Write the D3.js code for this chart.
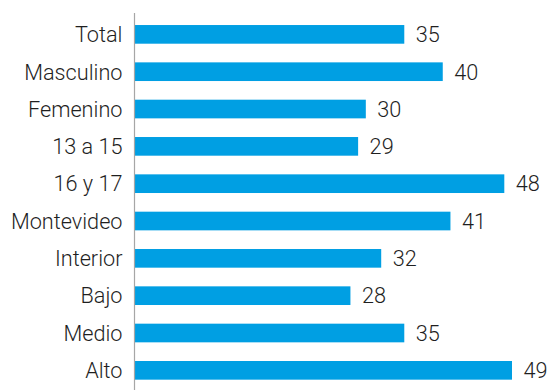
<!DOCTYPE html>
<html>
<head>
<meta charset="utf-8">
<script src="https://cdn.jsdelivr.net/npm/d3@7"></script>
<style>
  html, body { margin: 0; padding: 0; background: #fff; }
  svg { display: block; }
  text { font-family: "Roboto", "Liberation Sans", sans-serif; font-weight: 300; fill: #1f1f1f; }
</style>
</head>
<body>
<svg id="chart" width="549" height="390"></svg>
<script>
// Categories and their values (%)
const categories = ["Total", "Masculino", "Femenino", "13 a 15", "16 y 17",
                    "Montevideo", "Interior", "Bajo", "Medio", "Alto"];
const values = [35, 40, 30, 29, 48, 41, 32, 28, 35, 49];

const width = 549, height = 390;
const svg = d3.select("#chart");

const x = d3.scaleLinear().domain([0, 49]).range([135, 512]);
const y = d3.scaleBand()
  .domain(categories)
  .range([15.7, 389])
  .paddingInner(0.5)
  .paddingOuter(0.25);

const data = categories.map((c, i) => ({ cat: c, val: values[i] }));

// Bars
svg.append("g")
  .selectAll("rect")
  .data(data)
  .join("rect")
  .attr("x", x(0))
  .attr("y", d => y(d.cat))
  .attr("width", d => x(d.val) - x(0))
  .attr("height", y.bandwidth())
  .attr("fill", "#009FE3");

// Vertical axis line
svg.append("line")
  .attr("x1", 134.5).attr("x2", 134.5)
  .attr("y1", 13).attr("y2", height)
  .attr("stroke", "#a6a6a6")
  .attr("stroke-width", 1.2);

// Category labels
svg.append("g")
  .selectAll("text")
  .data(data)
  .join("text")
  .attr("x", 122.5)
  .attr("y", d => y(d.cat) + y.bandwidth() / 2)
  .attr("dy", "0.36em")
  .attr("text-anchor", "end")
  .attr("font-size", 21.7)
  .text(d => d.cat);

// Value labels
svg.append("g")
  .selectAll("text")
  .data(data)
  .join("text")
  .attr("x", d => x(d.val) + 11.5)
  .attr("y", d => y(d.cat) + y.bandwidth() / 2)
  .attr("dy", "0.36em")
  .attr("font-size", 21.7)
  .text(d => d.val);
</script>
</body>
</html>
